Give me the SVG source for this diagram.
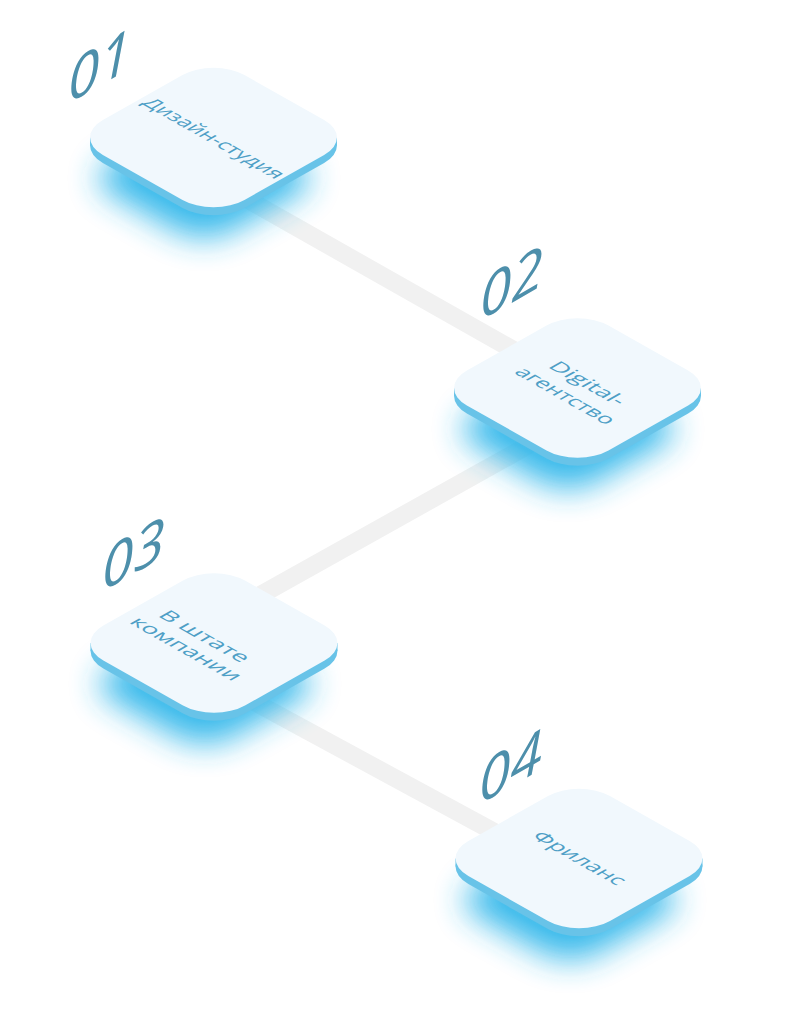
<svg xmlns="http://www.w3.org/2000/svg" xmlns:xlink="http://www.w3.org/1999/xlink" width="794" height="1024" viewBox="0 0 794 1024">
  <defs>
    <path id="sq" d="M -45 -80 H 45 A 35 35 0 0 1 80 -45 V 45 A 35 35 0 0 1 45 80 H -45 A 35 35 0 0 1 -80 45 V -45 A 35 35 0 0 1 -45 -80 Z" transform="matrix(0.885 0.5 -0.885 0.5 0 0)"/>
    <filter id="glow" x="-60%" y="-60%" width="220%" height="220%">
      <feGaussianBlur stdDeviation="19"/>
    </filter>
    <style>
      .band { stroke: #f1f1f1; stroke-width: 18; fill: none; stroke-linecap: butt; }
      .glow { fill: #2fb6ea; opacity: 0.95; filter: url(#glow); }
      .side { fill: #68c3e8; }
      .top { fill: #f1f8fd; }
      .lbl { font-family: "Open Sans", "Liberation Sans", sans-serif; font-size: 19px; fill: #4e9fc6; text-anchor: middle; }
      .num { font-family: "Open Sans", "Liberation Sans", sans-serif; font-style: italic; font-weight: 500; font-size: 57px; fill: #4d8fab; }
    </style>
  </defs>
  <rect width="794" height="1024" fill="#ffffff"/>

  <g id="connectors">
    <line class="band" x1="213" y1="180" x2="577" y2="386"/>
    <line class="band" x1="577" y1="418" x2="214" y2="621"/>
    <line class="band" x1="214" y1="680" x2="579" y2="878"/>
  </g>

  <g id="glows">
    <use href="#sq" class="glow" transform="translate(204 178) scale(0.85)"/>
    <use href="#sq" class="glow" transform="translate(568 429) scale(0.85)"/>
    <use href="#sq" class="glow" transform="translate(205 684) scale(0.85)"/>
    <use href="#sq" class="glow" transform="translate(570 900) scale(0.85)"/>
  </g>

  <g id="node1">
    <use href="#sq" class="side" transform="translate(213.5 145.5)"/>
    <rect class="side" x="90" y="137.5" width="247" height="8"/>
    <use href="#sq" class="top" transform="translate(213.5 137.5)"/>
    <g transform="translate(213.5 137.5) matrix(0.885 0.5 -0.885 0.5 0 0)">
      <text class="lbl" x="1" y="7" textLength="152" lengthAdjust="spacingAndGlyphs">Дизайн-студия</text>
    </g>
    <text class="num" transform="translate(68 104) skewY(-30)">01</text>
  </g>

  <g id="node2">
    <use href="#sq" class="side" transform="translate(577.5 396)"/>
    <rect class="side" x="454" y="388" width="247" height="8"/>
    <use href="#sq" class="top" transform="translate(577.5 388)"/>
    <g transform="translate(577.5 388) matrix(0.885 0.5 -0.885 0.5 0 0)">
      <text class="lbl" x="1" y="-4" textLength="79" lengthAdjust="spacingAndGlyphs">Digital-</text>
      <text class="lbl" x="1" y="21" textLength="105" lengthAdjust="spacingAndGlyphs">агентство</text>
    </g>
    <text class="num" transform="translate(480 321) skewY(-30)">02</text>
  </g>

  <g id="node3">
    <use href="#sq" class="side" transform="translate(214 651)"/>
    <rect class="side" x="90.5" y="643" width="247" height="8"/>
    <use href="#sq" class="top" transform="translate(214 643)"/>
    <g transform="translate(214 643) matrix(0.885 0.5 -0.885 0.5 0 0)">
      <text class="lbl" x="-12" y="5" textLength="95" lengthAdjust="spacingAndGlyphs">В штате</text>
      <text class="lbl" x="-10" y="28" textLength="118" lengthAdjust="spacingAndGlyphs">компании</text>
    </g>
    <text class="num" transform="translate(102 592) skewY(-30)">03</text>
  </g>

  <g id="node4">
    <use href="#sq" class="side" transform="translate(579 866.5)"/>
    <rect class="side" x="455.5" y="858.5" width="247" height="8"/>
    <use href="#sq" class="top" transform="translate(579 858.5)"/>
    <g transform="translate(579 858.5) matrix(0.885 0.5 -0.885 0.5 0 0)">
      <text class="lbl" x="0" y="6" textLength="98" lengthAdjust="spacingAndGlyphs">Фриланс</text>
    </g>
    <text class="num" transform="translate(479 805) skewY(-30)">04</text>
  </g>
</svg>
